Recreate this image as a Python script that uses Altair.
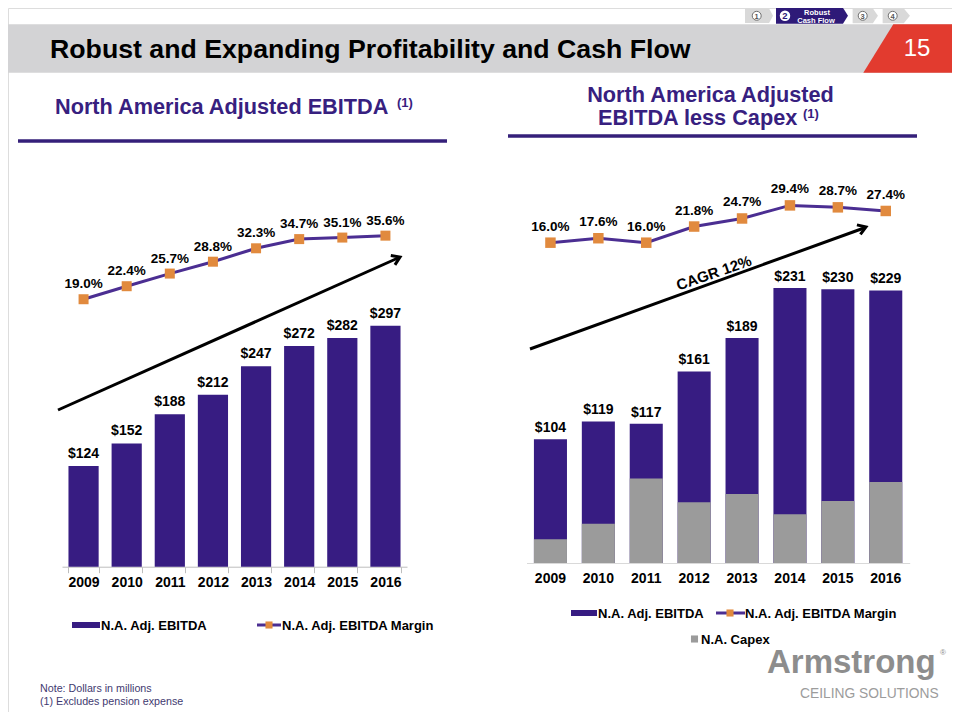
import altair as alt
import pandas as pd

# ---------------- data ----------------
years = ["2009", "2010", "2011", "2012", "2013", "2014", "2015", "2016"]
ebitda = [124, 152, 188, 212, 247, 272, 282, 297]
ebitda_margin = [19.0, 22.4, 25.7, 28.8, 32.3, 34.7, 35.1, 35.6]
less_capex = [104, 119, 117, 161, 189, 231, 230, 229]
capex = [20, 33, 71, 51, 58, 41, 52, 68]
less_capex_margin = [16.0, 17.6, 16.0, 21.8, 24.7, 29.4, 28.7, 27.4]

title_text = "Robust and Expanding Profitability and Cash Flow"
left_sub = "North America Adjusted EBITDA"
right_sub1 = "North America Adjusted"
right_sub2 = "EBITDA less Capex"
legend_left = ["N.A. Adj. EBITDA", "N.A. Adj. EBITDA Margin"]
legend_right = ["N.A. Adj. EBITDA", "N.A. Adj. EBITDA Margin", "N.A. Capex"]
notes = ["Note: Dollars in millions", "(1) Excludes pension expense"]

# ---------------- style ----------------
FONT = "Liberation Sans"
PURPLE = "#371c82"
LINE = "#4b2e92"
ORANGE = "#e18a3e"
GREY = "#9b9b9b"
SUBPURPLE = "#37207f"
W, H = 944, 704
O = 8  # page margin offset


def P(v):
    return v - O


def txt(text, x, y, size, color="#000000", weight="normal", align="left",
        baseline="alphabetic", font=FONT, angle=0):
    kw = dict(align=align, baseline=baseline, fontSize=size, fontWeight=weight,
              color=color, font=font)
    if angle:
        kw["angle"] = angle
    return alt.Chart(pd.DataFrame({"t": [text]})).mark_text(**kw).encode(
        x=alt.value(P(x)), y=alt.value(P(y)), text="t:N")


def rect(x1, y1, x2, y2, color):
    return alt.Chart(pd.DataFrame({"a": [0]})).mark_rect(color=color).encode(
        x=alt.value(P(x1)), x2=alt.value(P(x2)), y=alt.value(P(y1)), y2=alt.value(P(y2)))


def seg(x1, y1, x2, y2, color, width):
    return alt.Chart(pd.DataFrame({"a": [0]})).mark_rule(
        color=color, strokeWidth=width, strokeCap="butt").encode(
        x=alt.value(P(x1)), x2=alt.value(P(x2)), y=alt.value(P(y1)), y2=alt.value(P(y2)))


def shape(path, x, y, size, color, filled=True, stroke=None, sw=1, angle=0):
    kw = dict(shape=path, size=size, filled=filled, opacity=1)
    if filled:
        kw["fill"] = color
        kw["strokeWidth"] = 0
    else:
        kw["stroke"] = color
        kw["strokeWidth"] = sw
    if stroke:
        kw["stroke"] = stroke
        kw["strokeWidth"] = sw
    if angle:
        kw["angle"] = angle
    return alt.Chart(pd.DataFrame({"a": [0]})).mark_point(**kw).encode(
        x=alt.value(P(x)), y=alt.value(P(y)))


# ---------------- tables ----------------
df_l = pd.DataFrame({"year": years, "v": ebitda, "m": ebitda_margin})
df_l["vl"] = ["$" + str(v) for v in ebitda]
df_l["ml"] = [f"{m:.1f}%" for m in ebitda_margin]

df_r = pd.DataFrame({"year": years, "v": less_capex, "c": capex, "m": less_capex_margin})
df_r["vl"] = ["$" + str(v) for v in less_capex]
df_r["ml"] = [f"{m:.1f}%" for m in less_capex_margin]

# ---------------- scales ----------------
LXB = alt.Scale(type="band", domain=years, range=[P(62), P(407)], paddingInner=0.3, paddingOuter=0.15)
LXP = alt.Scale(type="point", domain=years, range=[P(62), P(407)], padding=0.5)
LYB = alt.Scale(domain=[0, 300], range=[P(566.7), P(323.3)], nice=False)
LYM = alt.Scale(domain=[0, 40], range=[P(372), P(218.8)], nice=False)

RXB = alt.Scale(type="band", domain=years, range=[P(526.5), P(909.7)], paddingInner=0.31, paddingOuter=0.155)
RXP = alt.Scale(type="point", domain=years, range=[P(526.5), P(909.7)], padding=0.5)
RYB = alt.Scale(domain=[0, 240], range=[P(563), P(277.4)], nice=False)
RYM = alt.Scale(domain=[0, 40], range=[P(287.2), P(175.9)], nice=False)

axis_l = alt.Axis(orient="bottom", offset=P(566.7) - H, title=None, grid=False,
                  domainColor="#bdbdbd", domainWidth=1, tickColor="#bdbdbd", tickSize=6,
                  tickBand="extent", labelFont=FONT, labelFontSize=14, labelFontWeight="bold",
                  labelColor="#000000", labelPadding=3, labelAngle=0)
axis_r = alt.Axis(orient="bottom", offset=P(563) - H, title=None, grid=False,
                  domainColor="#d9d9d9", domainWidth=1, ticks=False, tickSize=0,
                  labelFont=FONT, labelFontSize=14, labelFontWeight="bold",
                  labelColor="#000000", labelPadding=8, labelAngle=0)

layers = []

# ---------------- header ----------------
layers.append(rect(O, 24.3, 960, 72.7, "#d3d3d5"))
layers.append(shape("M-0.445,-0.403L0.9,-0.403L0.9,0.403L-0.945,0.403Z", 920, 48.5, 14400, "#e23b2f"))
layers.append(txt("15", 917, 56, 24, color="#ffffff", align="center"))
layers.append(txt(title_text, 50, 58, 26.7, weight="bold"))

# nav chevrons (kept inside the drawable area)
NY = 15.8
layers.append(shape("M-1,-0.52L0.72,-0.52L1,0L0.72,0.52L-1,0.52Z", 759, NY, 784, "#d9d9d9"))
layers.append(shape("M-1,-0.222L0.86,-0.222L1,0L0.86,0.222L-1,0.222Z", 812, NY, 5184, "#2e1a78"))
layers.append(shape("M-1,-0.58L0.6,-0.58L1,0L0.6,0.58L-1,0.58Z", 865.3, NY, 640, "#d9d9d9"))
layers.append(shape("M-1,-0.54L0.55,-0.54L1,0L0.55,0.54L-1,0.54Z", 896.3, NY, 745, "#d9d9d9"))
for cx, d in [(756.7, "1"), (862.7, "3"), (892.7, "4")]:
    layers.append(shape("circle", cx, NY, 80, "#ffffff", stroke="#6e6e6e", sw=1))
    layers.append(txt(d, cx, NY + 2.7, 7.5, color="#555555", weight="bold", align="center"))
layers.append(shape("circle", 785, NY, 110, "#ffffff"))
layers.append(txt("2", 785, NY + 3.3, 9.5, color="#2e1a78", weight="bold", align="center"))
layers.append(txt("Robust", 817, NY - 0.9, 7.5, color="#ffffff", weight="bold", align="center"))
layers.append(txt("Cash Flow", 816, NY + 7.1, 7.5, color="#ffffff", weight="bold", align="center"))

# ---------------- subtitles ----------------
layers.append(txt(left_sub, 55, 114, 21.7, color=SUBPURPLE, weight="bold"))
layers.append(txt("(1)", 397, 107, 13, color=SUBPURPLE, weight="bold"))
layers.append(seg(18, 141, 447, 141, "#35207a", 3.5))
layers.append(txt(right_sub1, 710.5, 101.7, 21.7, color=SUBPURPLE, weight="bold", align="center"))
layers.append(txt(right_sub2, 598, 125, 21.7, color=SUBPURPLE, weight="bold"))
layers.append(txt("(1)", 803, 118, 13, color=SUBPURPLE, weight="bold"))
layers.append(seg(508, 136, 917, 136, "#35207a", 3.5))

# ---------------- left chart ----------------
base_l = alt.Chart(df_l)
layers.append(base_l.mark_bar(color=PURPLE).encode(
    x=alt.X("year:N", scale=LXB, axis=axis_l),
    y=alt.Y("v:Q", scale=LYB, axis=None)))
layers.append(base_l.mark_text(font=FONT, fontSize=14, fontWeight="bold", dy=-8,
                               baseline="alphabetic", color="#000000").encode(
    x=alt.X("year:N", scale=LXP, axis=None),
    y=alt.Y("v:Q", scale=LYB, axis=None), text="vl:N"))
layers.append(base_l.mark_line(color=LINE, strokeWidth=3).encode(
    x=alt.X("year:N", scale=LXP, axis=None),
    y=alt.Y("m:Q", scale=LYM, axis=None)))
layers.append(base_l.mark_point(shape="square", filled=True, size=100, color=ORANGE, opacity=1).encode(
    x=alt.X("year:N", scale=LXP, axis=None),
    y=alt.Y("m:Q", scale=LYM, axis=None)))
layers.append(base_l.mark_text(font=FONT, fontSize=13.5, fontWeight="bold", dy=-11,
                               baseline="alphabetic", color="#000000").encode(
    x=alt.X("year:N", scale=LXP, axis=None),
    y=alt.Y("m:Q", scale=LYM, axis=None), text="ml:N"))
# growth arrow
layers.append(seg(58, 410, 398, 258, "#000000", 3))
layers.append(shape("M-1.3,-0.85L0,0L-1.3,0.85", 400, 257, 144, "#000000", filled=False, sw=3, angle=336))

# ---------------- right chart ----------------
base_r = alt.Chart(df_r)
layers.append(base_r.mark_bar(color=PURPLE).encode(
    x=alt.X("year:N", scale=RXB, axis=axis_r),
    y=alt.Y("v:Q", scale=RYB, axis=None)))
layers.append(base_r.mark_bar(color=GREY).encode(
    x=alt.X("year:N", scale=RXB, axis=None),
    y=alt.Y("c:Q", scale=RYB, axis=None)))
layers.append(base_r.mark_text(font=FONT, fontSize=14, fontWeight="bold", dy=-7,
                               baseline="alphabetic", color="#000000").encode(
    x=alt.X("year:N", scale=RXP, axis=None),
    y=alt.Y("v:Q", scale=RYB, axis=None), text="vl:N"))
layers.append(base_r.mark_line(color=LINE, strokeWidth=3).encode(
    x=alt.X("year:N", scale=RXP, axis=None),
    y=alt.Y("m:Q", scale=RYM, axis=None)))
layers.append(base_r.mark_point(shape="square", filled=True, size=110, color=ORANGE, opacity=1).encode(
    x=alt.X("year:N", scale=RXP, axis=None),
    y=alt.Y("m:Q", scale=RYM, axis=None)))
layers.append(base_r.mark_text(font=FONT, fontSize=13.5, fontWeight="bold", dy=-12,
                               baseline="alphabetic", color="#000000").encode(
    x=alt.X("year:N", scale=RXP, axis=None),
    y=alt.Y("m:Q", scale=RYM, axis=None), text="ml:N"))
layers.append(seg(530, 349, 864, 228, "#000000", 3))
layers.append(shape("M-1.3,-0.85L0,0L-1.3,0.85", 866, 227, 144, "#000000", filled=False, sw=3, angle=340))
layers.append(txt("CAGR 12%", 714, 273, 15, weight="bold", align="center", baseline="middle", angle=341))

# ---------------- legends ----------------
layers.append(rect(72, 622, 100, 628, PURPLE))
layers.append(txt(legend_left[0], 101, 629.5, 13, weight="bold"))
layers.append(seg(257, 625, 281, 625, LINE, 3))
layers.append(shape("square", 269, 625, 50, ORANGE))
layers.append(txt(legend_left[1], 282, 629.5, 13, weight="bold"))

layers.append(rect(571, 610, 597, 616, PURPLE))
layers.append(txt(legend_right[0], 598, 617.5, 13, weight="bold"))
layers.append(seg(716, 613, 745, 613, LINE, 3))
layers.append(shape("square", 730, 613, 50, ORANGE))
layers.append(txt(legend_right[1], 745, 617.5, 13, weight="bold"))
layers.append(shape("square", 694.5, 639, 50, GREY))
layers.append(txt(legend_right[2], 701, 643.5, 13, weight="bold"))

# ---------------- footer ----------------
layers.append(txt(notes[0], 40, 692, 10.7, color="#3f3a70"))
layers.append(txt(notes[1], 40, 704.5, 10.7, color="#3f3a70"))
layers.append(txt("Armstrong", 767, 673, 33, color="#8d8d8d", weight="bold"))
layers.append(txt("®", 940, 655, 8, color="#8d8d8d"))
layers.append(txt("CEILING SOLUTIONS", 800, 698, 13.8, color="#9c9c9c"))

chart = alt.layer(*layers).resolve_scale(
    x="independent", y="independent"
).properties(
    width=W, height=H, padding=0, autosize=alt.AutoSizeParams(type="none")
).configure_view(stroke=None).configure(background="#ffffff")

chart.save("out.html", embed_options={"renderer": "svg", "actions": False})
